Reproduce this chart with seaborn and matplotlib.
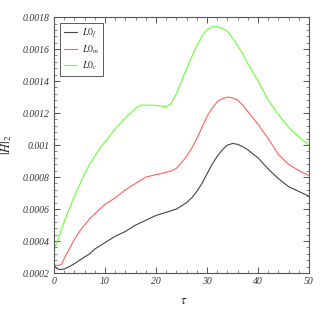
import numpy as np
import pandas as pd
import matplotlib
matplotlib.use("Agg")
import matplotlib.pyplot as plt
import seaborn as sns
from matplotlib.ticker import MultipleLocator, FuncFormatter

# values
tau_f = [0, 0.5, 1, 2, 3, 4, 5, 6, 7, 8, 10, 12, 14, 16, 18, 20, 22, 24, 25, 26, 27, 28,
         29, 30, 31, 32, 33, 34, 35, 36, 37, 38, 40, 42, 44, 46, 48, 50]
h_f = [0.00025, 0.00023, 0.000222, 0.000225, 0.00024, 0.000258, 0.00028, 0.0003, 0.00032,
       0.00035, 0.00039, 0.00043, 0.00046, 0.0005, 0.00053, 0.00056, 0.00058, 0.0006,
       0.00062, 0.00064, 0.00067, 0.00071, 0.00076, 0.00082, 0.00088, 0.00093, 0.00097,
       0.001, 0.00101, 0.001005, 0.00099, 0.00097, 0.00092, 0.00085, 0.00079, 0.00074,
       0.00071, 0.00068]

tau_m = [0, 1, 1.5, 2, 3, 4, 5, 6, 7, 8, 10, 12, 14, 16, 18, 20, 22, 23, 24, 25, 26, 27,
         28, 29, 30, 31, 32, 33, 34, 35, 36, 37, 38, 40, 42, 44, 46, 48, 50]
h_m = [0.00025, 0.000248, 0.000255, 0.00029, 0.00035, 0.00041, 0.00046, 0.0005, 0.00054,
       0.00057, 0.00063, 0.00067, 0.00072, 0.00076, 0.0008, 0.000815, 0.00083, 0.000838,
       0.000855, 0.00089, 0.00093, 0.00098, 0.00104, 0.00111, 0.00118, 0.00123, 0.00127,
       0.00129, 0.0013, 0.001295, 0.00128, 0.00125, 0.00121, 0.00113, 0.00104, 0.00094,
       0.00088, 0.00084, 0.00081]

tau_c = [0, 1, 2, 3, 4, 5, 6, 7, 8, 9, 10, 12, 14, 16, 17, 18, 20, 22, 23, 24, 25, 26, 27,
         28, 29, 30, 31, 32, 33, 34, 35, 36, 37, 38, 40, 42, 44, 46, 48, 50]
h_c = [0.00034, 0.00043, 0.00052, 0.0006, 0.00068, 0.00075, 0.00082, 0.00088, 0.00093,
       0.00098, 0.00102, 0.0011, 0.00117, 0.00123, 0.00125, 0.00125, 0.001248, 0.00124,
       0.00126, 0.00132, 0.0014, 0.00148, 0.00155, 0.00162, 0.00168, 0.00172, 0.00174,
       0.00174, 0.00173, 0.00171, 0.00167, 0.00162, 0.00157, 0.00151, 0.0014, 0.00128,
       0.00119, 0.00111, 0.00105, 0.001]

labels = [r"$L0_f$", r"$L0_m$", r"$L0_c$"]
colors = ["#444444", "#ff6060", "#66ff33"]

df = pd.concat([
    pd.DataFrame({"tau": tau_f, "H": h_f, "series": labels[0]}),
    pd.DataFrame({"tau": tau_m, "H": h_m, "series": labels[1]}),
    pd.DataFrame({"tau": tau_c, "H": h_c, "series": labels[2]}),
])

sns.set_style("ticks")
plt.rcParams["font.family"] = ["Liberation Serif", "DejaVu Serif"]
plt.rcParams["mathtext.fontset"] = "stix"

fig = plt.figure(figsize=(3.25, 3.11), dpi=100)
ax = fig.add_axes([0.166, 0.122, 0.785, 0.823])

sns.lineplot(data=df, x="tau", y="H", hue="series", palette=colors, linewidth=0.8,
             sort=False, ax=ax)

ax.set_xlim(0, 50)
ax.set_ylim(0.0002, 0.0018)
ax.xaxis.set_major_locator(MultipleLocator(10))
ax.xaxis.set_minor_locator(MultipleLocator(2))
ax.yaxis.set_major_locator(MultipleLocator(0.0002))
ax.yaxis.set_minor_locator(MultipleLocator(0.00004))
ax.yaxis.set_major_formatter(FuncFormatter(lambda v, p: "%g" % round(v, 5)))

ax.tick_params(which="both", direction="in", top=True, right=True, color="#555555",
               labelcolor="#333333", labelsize=7)
ax.tick_params(which="major", length=4, width=0.7, pad=3)
ax.tick_params(which="minor", length=2, width=0.5)
for lab in ax.get_xticklabels() + ax.get_yticklabels():
    lab.set_fontstyle("italic")
for s in ax.spines.values():
    s.set_color("#555555")
    s.set_linewidth(0.8)

ax.set_xlabel(r"$\tau$", fontsize=9)
ax.set_ylabel(r"$|H|_2$", fontsize=9)
ax.xaxis.set_label_coords(0.51, -0.085)
ax.yaxis.set_label_coords(-0.155, 0.5)

leg = ax.legend(loc="upper left", fontsize=7, frameon=True, fancybox=False,
                edgecolor="#333333", handlelength=1.4, handletextpad=0.5,
                borderaxespad=0.6, borderpad=0.4, labelspacing=0.35)
leg.get_frame().set_linewidth(0.7)

fig.savefig("out.png", dpi=100)
